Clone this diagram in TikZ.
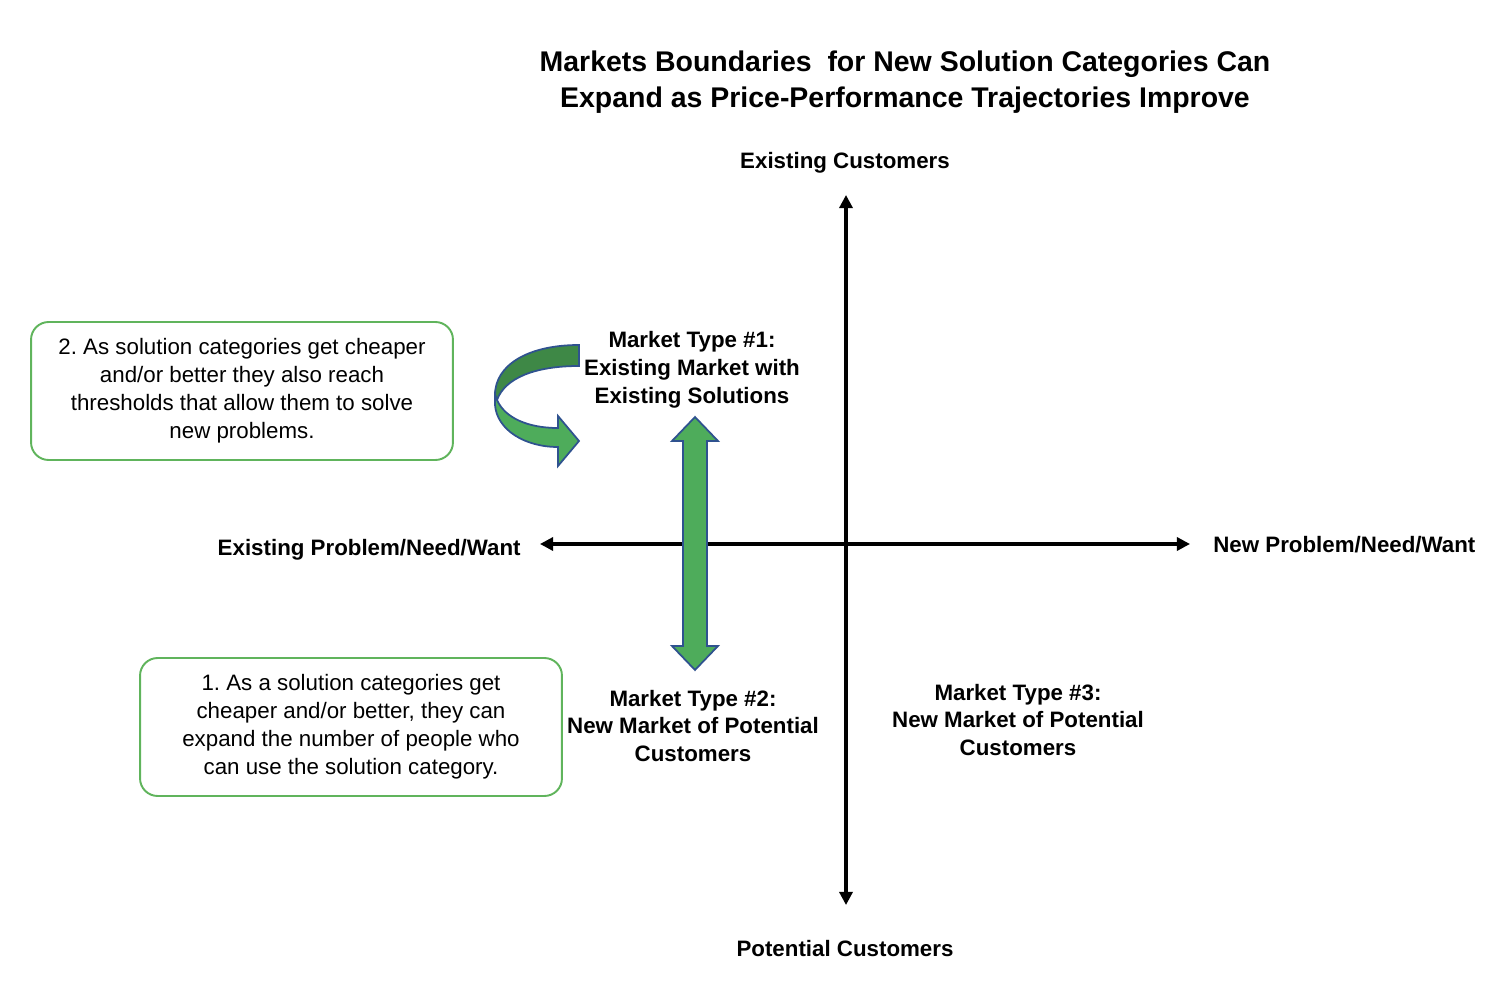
\documentclass[tikz,border=0pt]{standalone}
\usepackage{fontspec}
\setmainfont{Liberation Sans}
\usetikzlibrary{arrows.meta,positioning}
\frenchspacing
\definecolor{boxgreen}{RGB}{96,180,92}
\definecolor{arrowgreen}{RGB}{78,172,91}
\definecolor{darkgreen}{RGB}{62,136,70}
\definecolor{arrowedge}{RGB}{47,82,143}
\tikzstyle{heading} = [font=\fontsize{16.2}{20.4}\selectfont\bfseries, align=center, inner sep=0pt]
\tikzstyle{mlabel} = [font=\fontsize{12.7}{15.9}\selectfont\bfseries, align=center, inner sep=0pt]
\tikzstyle{note} = [draw=boxgreen, line width=1.1pt, rounded corners=10pt, minimum width=8.44cm, minimum height=2.76cm, align=center, font=\fontsize{12.7}{15.9}\selectfont]
\tikzstyle{axis} = [line width=1.8pt, {Triangle[length=7.5pt,width=7.5pt]}-{Triangle[length=7.5pt,width=7.5pt]}]
\tikzstyle{bigarrow} = [draw=arrowedge, line width=1pt, fill=arrowgreen, line join=miter]

\begin{document}
\begin{tikzpicture}[x=0.02cm, y=-0.02cm]
    \useasboundingbox (0,0) rectangle (1502,1000);
    \node[heading] (title) at (905,82) {Markets Boundaries\ \ for New Solution Categories Can\\Expand as Price-Performance Trajectories Improve};

    \node[mlabel] (existc) at (845,163) {Existing Customers};
    \node[mlabel] (potc) at (845,949) {Potential Customers};
    \node[mlabel, anchor=east] (existp) at (521,550) {Existing Problem/Need/Want};
    \node[mlabel, anchor=west] (newp) at (1213,545) {New Problem/Need/Want};

    \node[mlabel] (type1) at (692,370) {Market Type \#1:\\Existing Market with\\Existing Solutions};
    \node[mlabel] (type2) at (693,726) {Market Type \#2:\\New Market of Potential\\Customers};
    \node[mlabel] (type3) at (1018,720) {Market Type \#3:\\New Market of Potential\\Customers};

    \node[note] (note2) at (242,391) {2. As solution categories get cheaper\\and/or better they also reach\\thresholds that allow them to solve\\new problems.};
    \node[note] (note1) at (351,727) {1. As a solution categories get\\cheaper and/or better, they can\\expand the number of people who\\can use the solution category.};

    \coordinate (ytop) at (846,195);
    \coordinate (ybot) at (846,905);
    \coordinate (xleft) at (540,544);
    \coordinate (xright) at (1190,544);
    \draw[axis] (ybot) -- (ytop);
    \draw[axis] (xleft) -- (xright);

    \draw[bigarrow] (695,417) -- (718,441) -- (707,441) -- (707,646) -- (718,646) -- (695,670)
        -- (672,646) -- (683,646) -- (683,441) -- (672,441) -- cycle;

    \draw[bigarrow, fill=darkgreen] (579,345) .. controls (528,345) and (495,365) .. (495,395)
        -- (497,400) .. controls (505,378) and (535,366) .. (579,366) -- cycle;
    \draw[bigarrow] (495,395) -- (495,405) .. controls (497,430) and (525,447) .. (558,447)
        -- (558,466) -- (579,441) -- (558,416) -- (558,428) .. controls (528,428) and (505,418) .. (497,400) -- cycle;
\end{tikzpicture}
\end{document}
